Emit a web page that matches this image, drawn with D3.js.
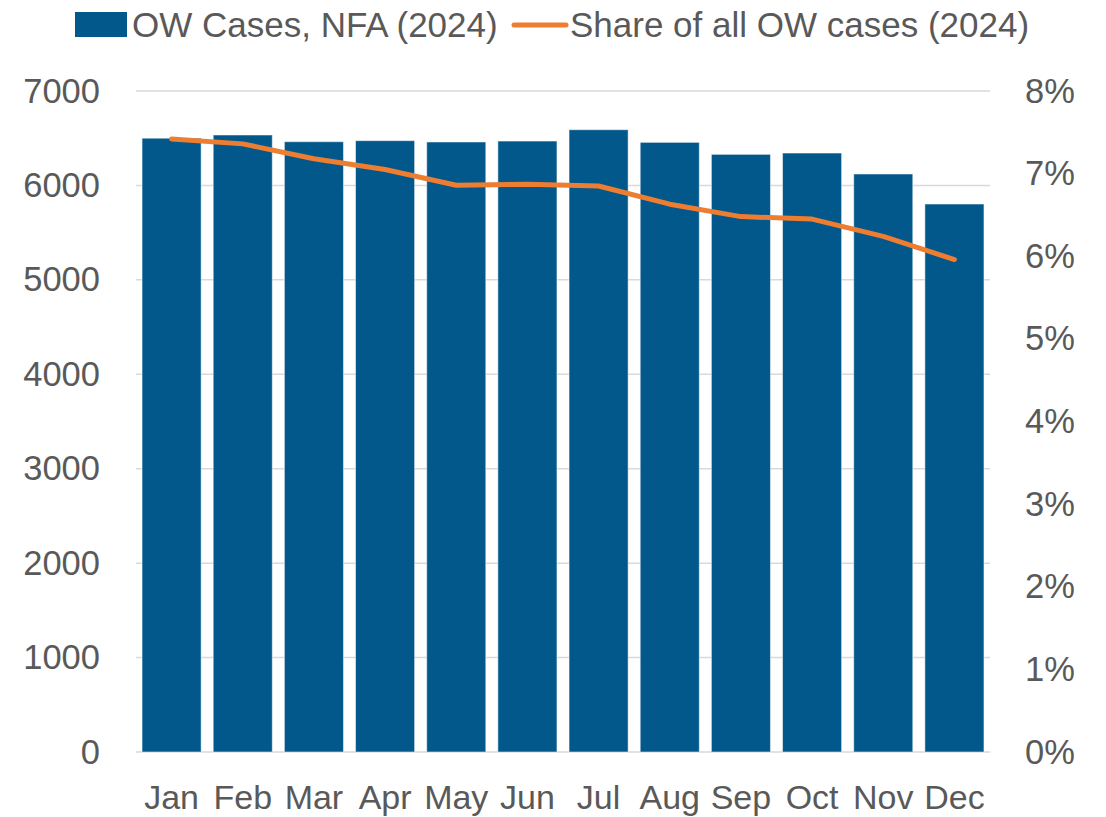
<!DOCTYPE html>
<html><head><meta charset="utf-8">
<script src="https://cdn.jsdelivr.net/npm/d3@7"></script>
<style>
body{margin:0;background:#fff;}
svg text{font-family:"Liberation Sans",Arial,sans-serif;fill:#595959;}
</style></head>
<body><svg id="c" width="1106" height="817"></svg>
<script>
const months = ["Jan","Feb","Mar","Apr","May","Jun","Jul","Aug","Sep","Oct","Nov","Dec"];
const cases = [6500,6534,6463,6474,6460,6470,6590,6456,6329,6343,6121,5803];
const share = [0.0742,0.0736,0.0718,0.0705,0.0686,0.0687,0.0685,0.0663,0.0648,0.0645,0.0624,0.0596];
const leftTicks = [0,1000,2000,3000,4000,5000,6000,7000];
const rightTicks = [0,0.01,0.02,0.03,0.04,0.05,0.06,0.07,0.08];
const seriesNames = ["OW Cases, NFA (2024)","Share of all OW cases (2024)"];

const svg = d3.select("#c");
const m = {left:136, right:990, top:91, bottom:752};
const x = d3.scaleBand().domain(months).range([m.left,m.right]).paddingInner(0.17).paddingOuter(0.085);
const y = d3.scaleLinear().domain([0,7000]).range([m.bottom,m.top]);
const y2 = d3.scaleLinear().domain([0,0.08]).range([m.bottom,m.top]);

// gridlines
svg.append("g").selectAll("line").data(leftTicks).join("line")
  .attr("x1",m.left).attr("x2",m.right)
  .attr("y1",d=>y(d)).attr("y2",d=>y(d))
  .attr("stroke","#d9d9d9").attr("stroke-width",1.5);

// bars
svg.append("g").selectAll("rect").data(cases).join("rect")
  .attr("x",(d,i)=>x(months[i])).attr("width",x.bandwidth())
  .attr("y",d=>y(d)).attr("height",d=>y(0)-y(d))
  .attr("fill","#02578b").attr("stroke","#ffffff").attr("stroke-opacity",0.5).attr("stroke-width",1);

// line
const line = d3.line().x((d,i)=>x(months[i])+x.bandwidth()/2).y(d=>y2(d));
svg.append("path").datum(share).attr("d",line)
  .attr("fill","none").attr("stroke","#ed7d31").attr("stroke-width",5)
  .attr("stroke-linecap","round").attr("stroke-linejoin","round");

// axes
const fs = 34.5;
const axL = d3.axisLeft(y).tickValues(leftTicks).tickSize(0).tickPadding(0).tickFormat(d3.format("d"));
const gL = svg.append("g").attr("transform","translate(100,0)").call(axL);
gL.select(".domain").remove();
gL.selectAll("text").attr("font-size",fs).style("font-family","Liberation Sans, Arial, sans-serif").attr("fill","#595959");

const axR = d3.axisRight(y2).tickValues(rightTicks).tickSize(0).tickPadding(0).tickFormat(d3.format(".0%"));
const gR = svg.append("g").attr("transform","translate(1025,0)").call(axR);
gR.select(".domain").remove();
gR.selectAll("text").attr("font-size",fs).style("font-family","Liberation Sans, Arial, sans-serif").attr("fill","#595959");

const axB = d3.axisBottom(x).tickSize(0).tickPadding(0);
const gB = svg.append("g").attr("transform","translate(0,785)").call(axB);
gB.select(".domain").remove();
gB.selectAll("text").attr("font-size",34).attr("dy","0.71em").style("font-family","Liberation Sans, Arial, sans-serif").attr("fill","#595959");

// legend
const lg = svg.append("g");
lg.append("rect").attr("x",75).attr("y",12).attr("width",52).attr("height",25).attr("fill","#02578b");
lg.append("text").attr("x",132).attr("y",37).attr("font-size",35).text(seriesNames[0]);
lg.append("line").attr("x1",514).attr("x2",566).attr("y1",25).attr("y2",25)
  .attr("stroke","#ed7d31").attr("stroke-width",5).attr("stroke-linecap","round");
lg.append("text").attr("x",570).attr("y",37).attr("font-size",35).text(seriesNames[1]);
</script></body></html>
